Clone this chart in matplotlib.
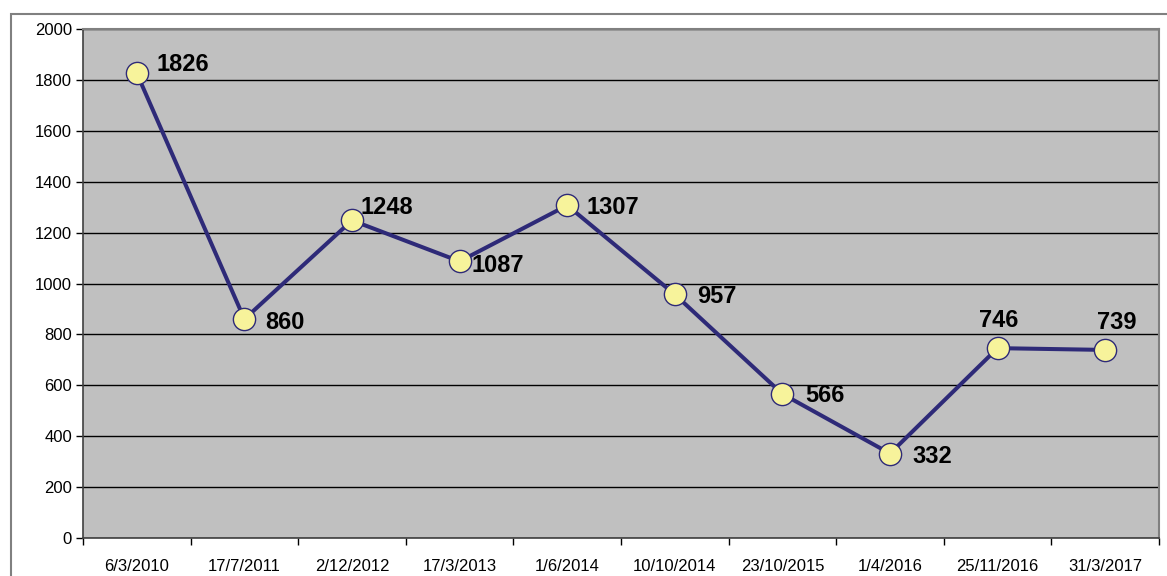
import matplotlib
matplotlib.use("Agg")
import matplotlib.pyplot as plt
from matplotlib.patches import Rectangle

plt.rcParams.update({
    "font.family": ["Liberation Sans", "DejaVu Sans"],
    "font.size": 12,
})

dates = ["6/3/2010", "17/7/2011", "2/12/2012", "17/3/2013", "1/6/2014",
         "10/10/2014", "23/10/2015", "1/4/2016", "25/11/2016", "31/3/2017"]
values = [1826, 860, 1248, 1087, 1307, 957, 566, 332, 746, 739]
y_ticks = [0, 200, 400, 600, 800, 1000, 1200, 1400, 1600, 1800, 2000]

# label offsets in pixels (dx, dy, ha)
label_pos = [(20, 9, "left"), (21, -3, "left"), (9, 13, "left"), (12, -4, "left"),
             (19, -2, "left"), (22, -2, "left"), (23, -2, "left"), (22, -3, "left"),
             (1, 28, "center"), (12, 27, "center")]

fig = plt.figure(figsize=(11.67, 5.76), dpi=100)
fig.patches.append(Rectangle((11 / 1167, -0.2), 2, 0.2 + 1 - 14 / 576,
                             transform=fig.transFigure, fill=False,
                             edgecolor="#808080", lw=1.5, zorder=0))

ax = fig.add_axes([83 / 1167, 1 - 538 / 576, (1159 - 83) / 1167, (538 - 29) / 576])
ax.set_facecolor("#C0C0C0")

x = list(range(len(dates)))
ax.plot(x, values, color="#2E2A78", lw=2.9, marker="o", markersize=16,
        markerfacecolor="#F7F39B", markeredgecolor="#2E2A78", markeredgewidth=1,
        zorder=3, clip_on=False)

for xi, v, (dx, dy, ha) in zip(x, values, label_pos):
    ax.annotate(str(v), (xi, v), xytext=(dx * 0.72, dy * 0.72),
                textcoords="offset points", ha=ha, va="center",
                fontsize=17, fontweight="bold", color="black", zorder=4)

ax.set_xlim(-0.5, len(dates) - 0.5)
ax.set_ylim(0, 2000)
ax.set_yticks(y_ticks)
ax.yaxis.grid(True, color="black", lw=1)
ax.set_axisbelow(True)

ax.set_xticks(x)
ax.set_xticklabels(dates, fontsize=12)
ax.set_xticks([i + 0.5 for i in range(-1, len(dates))], minor=True)
ax.tick_params(axis="x", which="major", length=0, pad=15)
ax.tick_params(axis="x", which="minor", length=5, width=1, direction="out")
ax.tick_params(axis="y", length=5, width=1, direction="out", pad=3, labelsize=12)

for side in ["left", "bottom"]:
    ax.spines[side].set_color("#404040")
    ax.spines[side].set_linewidth(1.2)
for side in ["top", "right"]:
    ax.spines[side].set_color("#808080")
    ax.spines[side].set_linewidth(1.5)

fig.savefig("out.png", dpi=100)
